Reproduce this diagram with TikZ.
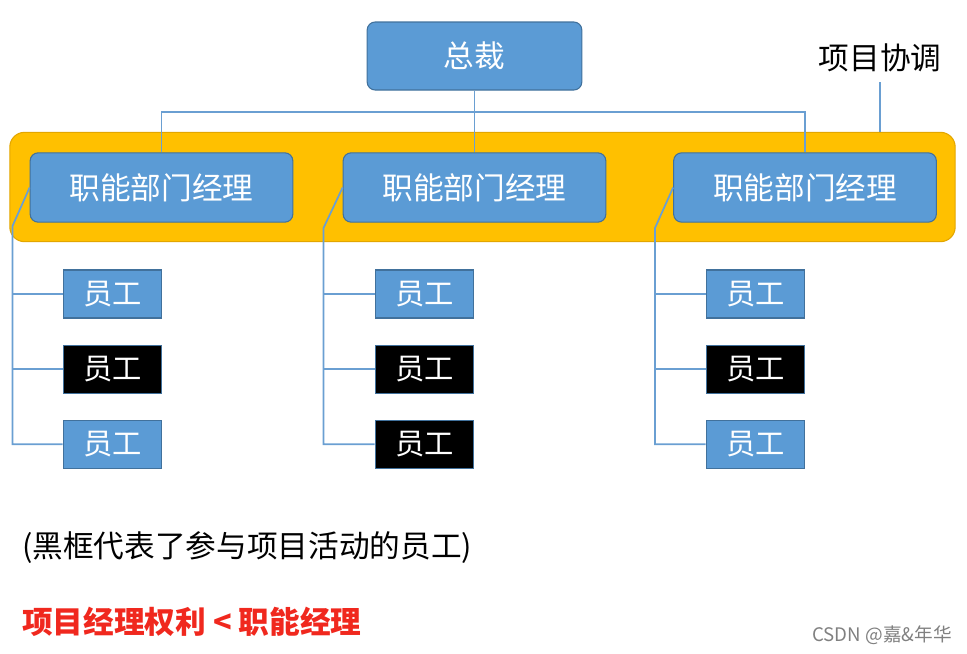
\documentclass[tikz,border=0pt]{standalone}
\usepackage{fontspec}
\setmainfont{Noto Sans CJK SC}
\usetikzlibrary{positioning}
\definecolor{boxblue}{HTML}{5B9BD5}
\definecolor{boxedge}{HTML}{41719C}
\definecolor{bandgold}{HTML}{FFC000}
\definecolor{bandedge}{HTML}{E3A600}
\definecolor{linkblue}{HTML}{6A9FD2}
\definecolor{alertred}{HTML}{F0281E}

\begin{document}
\begin{tikzpicture}[x=0.75pt,y=-0.75pt,  % one unit = one pixel of the reference
		boss/.style={rectangle,rounded corners=6pt,draw=boxedge,fill=boxblue,line width=0.8pt,
			minimum width=161pt,minimum height=51pt,inner sep=0pt,text=white,font=\fontsize{23}{26}\selectfont},
		manager/.style={boss,minimum width=197pt,minimum height=52pt},
		staff/.style={rectangle,draw=boxedge,fill=boxblue,line width=0.8pt,
			minimum width=74pt,minimum height=36pt,inner sep=0pt,text=white,font=\fontsize{22}{25}\selectfont},
		inproject/.style={staff,fill=black},
		band/.style={rectangle,rounded corners=11pt,draw=bandedge,fill=bandgold,line width=0.8pt,
			minimum width=709pt,minimum height=82pt},
		link/.style={draw=linkblue,line width=1.3pt},
		node distance=19.5pt
	]
		\useasboundingbox (0,0) rectangle (967,653);

		\node[band] (coord) at (482.5,187) {};

		\node[boss] (chief) at (474.5,56) {总裁};
		\node[manager] (mgrA) at (161.5,187.5) {职能部门经理};
		\node[manager] (mgrB) at (474.5,187.5) {职能部门经理};
		\node[manager] (mgrC) at (805,187.5) {职能部门经理};

		\node[staff] (empA1) at (112.5,294) {员工};
		\node[inproject] (empA2) [below=of empA1] {员工};
		\node[staff] (empA3) [below=of empA2] {员工};
		\node[staff] (empB1) at (424.5,294) {员工};
		\node[inproject] (empB2) [below=of empB1] {员工};
		\node[inproject] (empB3) [below=of empB2] {员工};
		\node[staff] (empC1) at (755.5,294) {员工};
		\node[inproject] (empC2) [below=of empC1] {员工};
		\node[staff] (empC3) [below=of empC2] {员工};

		% chief to the three managers
		\draw[link] (chief.south) -- (mgrB.north);
		\draw[link] (mgrA.north) -- ++(0,-40) -| (mgrC.north);

		% project coordination tag
		\node[font=\fontsize{23}{26}\selectfont] (tag) at (880,58) {项目协调};
		\coordinate (tagfoot) at (880,82);
		\draw[link] (tagfoot) -- (tagfoot |- coord.north);

		% managers to their staff
		\coordinate (bendA) at (12.5,226);
		\coordinate (bendB) at (323.5,228);
		\coordinate (bendC) at (655,228);
		\draw[link] (mgrA.west) -- (bendA) -- (bendA |- empA3.west) -- (empA3.west);
		\draw[link] (bendA |- empA1.west) -- (empA1.west);
		\draw[link] (bendA |- empA2.west) -- (empA2.west);
		\draw[link] (mgrB.west) -- (bendB) -- (bendB |- empB3.west) -- (empB3.west);
		\draw[link] (bendB |- empB1.west) -- (empB1.west);
		\draw[link] (bendB |- empB2.west) -- (empB2.west);
		\draw[link] (mgrC.west) -- (bendC) -- (bendC |- empC3.west) -- (empC3.west);
		\draw[link] (bendC |- empC1.west) -- (empC1.west);
		\draw[link] (bendC |- empC2.west) -- (empC2.west);

		\node[anchor=west,inner sep=0pt,font=\fontsize{23}{26}\selectfont] (note) at (22,548) {(黑框代表了参与项目活动的员工)};
		\node[anchor=west,inner sep=0pt,text=alertred,font=\fontsize{23}{26}\selectfont\bfseries] (rule) at (22,622) {项目经理权利 < 职能经理};
		\node[anchor=east,inner sep=0pt,text=gray,font=\fontsize{14}{16}\selectfont] (mark) at (952,635) {CSDN @嘉\&年华};
\end{tikzpicture}
\end{document}
